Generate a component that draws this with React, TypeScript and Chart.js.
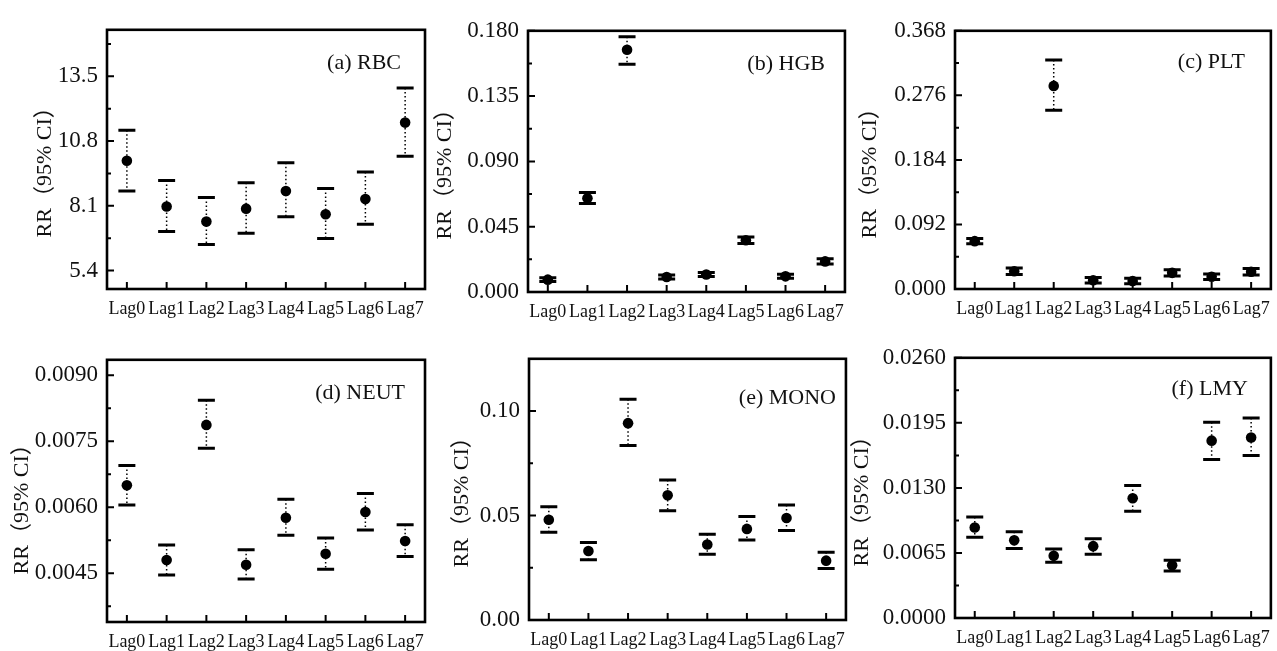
import React, { useEffect, useRef } from 'react';
import { Chart, registerables } from 'chart.js';

Chart.register(...registerables);

// ---------- data ----------
const categories = ['Lag0', 'Lag1', 'Lag2', 'Lag3', 'Lag4', 'Lag5', 'Lag6', 'Lag7'];

const rbcEst = [9.98, 8.07, 7.44, 7.98, 8.72, 7.75, 8.38, 11.57];
const rbcLow = [8.72, 7.03, 6.49, 6.95, 7.64, 6.74, 7.33, 10.17];
const rbcHigh = [11.25, 9.16, 8.45, 9.06, 9.9, 8.82, 9.51, 13.01];
const rbcTicks = [5.4, 8.1, 10.8, 13.5];

const hgbEst = [0.0085, 0.0646, 0.1669, 0.0103, 0.0121, 0.0357, 0.0108, 0.0211];
const hgbLow = [0.0072, 0.061, 0.157, 0.0089, 0.0107, 0.0335, 0.0094, 0.0193];
const hgbHigh = [0.0098, 0.0686, 0.1759, 0.0117, 0.0135, 0.0379, 0.0122, 0.0229];
const hgbTicks = [0.0, 0.045, 0.09, 0.135, 0.18];

const pltEst = [0.0682, 0.0253, 0.2895, 0.0124, 0.0115, 0.023, 0.0175, 0.0245];
const pltLow = [0.0645, 0.0207, 0.2549, 0.0085, 0.0076, 0.0184, 0.0136, 0.0199];
const pltHigh = [0.0719, 0.0299, 0.3264, 0.0163, 0.0154, 0.0276, 0.0214, 0.0291];
const pltTicks = [0.0, 0.092, 0.184, 0.276, 0.368];

const neutEst = [0.0065, 0.0048, 0.00787, 0.00469, 0.00576, 0.00494, 0.00589, 0.00523];
const neutLow = [0.00605, 0.00446, 0.00734, 0.00437, 0.00536, 0.00459, 0.00548, 0.00488];
const neutHigh = [0.00695, 0.00514, 0.00843, 0.00503, 0.00618, 0.0053, 0.00631, 0.0056];
const neutTicks = [0.0045, 0.006, 0.0075, 0.009];

const monoEst = [0.048, 0.033, 0.0942, 0.0597, 0.0361, 0.0436, 0.0488, 0.0284];
const monoLow = [0.042, 0.0288, 0.0835, 0.0523, 0.0315, 0.0383, 0.0428, 0.0246];
const monoHigh = [0.0542, 0.0371, 0.1056, 0.067, 0.041, 0.0495, 0.055, 0.0324];
const monoTicks = [0.0, 0.05, 0.1];

const lmyEst = [0.00905, 0.00776, 0.00621, 0.00718, 0.01196, 0.00527, 0.01772, 0.01804];
const lmyLow = [0.00808, 0.00695, 0.00556, 0.00637, 0.01067, 0.00469, 0.01584, 0.01623];
const lmyHigh = [0.01009, 0.00863, 0.00689, 0.00792, 0.01325, 0.00578, 0.01956, 0.01998];
const lmyTicks = [0.0, 0.0065, 0.013, 0.0195, 0.026];

const yTitle = 'RR（95% CI）';

// ---------- layout / style ----------
const FONT = '"Liberation Serif", "Times New Roman", "Noto Sans CJK SC", serif';
const AXIS_W = 110;
const PAD_TOP = 16;
const PAD_RIGHT = 6;
const X_H = 40;

type Panel = {
  label: string;
  est: number[];
  low: number[];
  high: number[];
  ticks: number[];
  min: number;
  max: number;
  decimals: number;
  box: { l: number; t: number; r: number; b: number };
  titleDx: number;
  titleCy: number;
  labelGap: number;
  labelCy: number;
};

const panels: Panel[] = [
  { label: '(a) RBC', est: rbcEst, low: rbcLow, high: rbcHigh, ticks: rbcTicks, min: 4.63, max: 15.44, decimals: 1,
    box: { l: 107, t: 23, r: 427, b: 289 }, titleDx: -62, titleCy: 160, labelGap: 24, labelCy: 56 },
  { label: '(b) HGB', est: hgbEst, low: hgbLow, high: hgbHigh, ticks: hgbTicks, min: 0, max: 0.18, decimals: 3,
    box: { l: 528, t: 24, r: 847, b: 292 }, titleDx: -83, titleCy: 162, labelGap: 20, labelCy: 57 },
  { label: '(c) PLT', est: pltEst, low: pltLow, high: pltHigh, ticks: pltTicks, min: 0, max: 0.368, decimals: 3,
    box: { l: 955, t: 24, r: 1273, b: 289 }, titleDx: -85, titleCy: 161, labelGap: 26, labelCy: 55 },
  { label: '(d) NEUT', est: neutEst, low: neutLow, high: neutHigh, ticks: neutTicks, min: 0.00339, max: 0.00935, decimals: 4,
    box: { l: 107, t: 353, r: 427, b: 622 }, titleDx: -85, titleCy: 497, labelGap: 20, labelCy: 386 },
  { label: '(e) MONO', est: monoEst, low: monoLow, high: monoHigh, ticks: monoTicks, min: 0, max: 0.125, decimals: 2,
    box: { l: 529, t: 352, r: 848, b: 620 }, titleDx: -67, titleCy: 490, labelGap: 10, labelCy: 391 },
  { label: '(f) LMY', est: lmyEst, low: lmyLow, high: lmyHigh, ticks: lmyTicks, min: 0, max: 0.026, decimals: 4,
    box: { l: 955, t: 351, r: 1273, b: 618 }, titleDx: -93, titleCy: 489, labelGap: 23, labelCy: 382 },
];

function makePlugin(p: Panel) {
  return {
    id: 'panelDeco',
    beforeDatasetsDraw(chart: any) {
      const ctx = chart.ctx;
      const xs = chart.scales.x;
      const ys = chart.scales.y;
      ctx.save();
      ctx.strokeStyle = '#000';
      p.est.forEach((_, i) => {
        const px = xs.getPixelForValue(i);
        const yl = ys.getPixelForValue(p.low[i]);
        const yh = ys.getPixelForValue(p.high[i]);
        ctx.setLineDash([1.5, 2.5]);
        ctx.lineWidth = 1.5;
        ctx.beginPath();
        ctx.moveTo(px, yh);
        ctx.lineTo(px, yl);
        ctx.stroke();
        ctx.setLineDash([]);
        ctx.lineWidth = 3;
        ctx.beginPath();
        ctx.moveTo(px - 8.5, yh);
        ctx.lineTo(px + 8.5, yh);
        ctx.moveTo(px - 8.5, yl);
        ctx.lineTo(px + 8.5, yl);
        ctx.stroke();
      });
      ctx.restore();
    },
    afterDraw(chart: any) {
      const ctx = chart.ctx;
      const { left, right, top, bottom } = chart.chartArea;
      const xs = chart.scales.x;
      const ys = chart.scales.y;
      ctx.save();
      ctx.strokeStyle = '#000';
      ctx.fillStyle = '#111';
      // ticks (inward)
      ctx.lineWidth = 2;
      const step = p.ticks[1] - p.ticks[0];
      ctx.beginPath();
      p.ticks.forEach((v) => {
        const py = ys.getPixelForValue(v);
        ctx.moveTo(left, py);
        ctx.lineTo(left + 7, py);
      });
      for (let k = -1; k < p.ticks.length + 1; k++) {
        const v = p.ticks[0] + step * (k + 0.5);
        if (v > p.min && v < p.max) {
          const py = ys.getPixelForValue(v);
          ctx.moveTo(left, py);
          ctx.lineTo(left + 4, py);
        }
      }
      categories.forEach((_, i) => {
        const px = xs.getPixelForValue(i);
        ctx.moveTo(px, bottom);
        ctx.lineTo(px, bottom - 7);
      });
      ctx.stroke();
      // frame
      ctx.lineWidth = 2.6;
      ctx.strokeRect(left, top, right - left, bottom - top);
      // y title
      ctx.save();
      ctx.translate(left + p.titleDx, top + (p.titleCy - p.box.t));
      ctx.rotate(-Math.PI / 2);
      ctx.font = `22px ${FONT}`;
      ctx.textAlign = 'center';
      ctx.textBaseline = 'middle';
      ctx.fillText(yTitle, 0, 0);
      ctx.restore();
      // panel label
      ctx.font = `22px ${FONT}`;
      ctx.textAlign = 'right';
      ctx.textBaseline = 'middle';
      ctx.fillText(p.label, right - p.labelGap, top + (p.labelCy - p.box.t));
      ctx.restore();
    },
  };
}

function PanelChart({ p }: { p: Panel }) {
  const ref = useRef<HTMLCanvasElement | null>(null);
  useEffect(() => {
    if (!ref.current) return;
    const chart = new Chart(ref.current, {
      type: 'line',
      data: {
        labels: categories,
        datasets: [
          {
            data: p.est,
            showLine: false,
            pointRadius: 5.3,
            pointHoverRadius: 5.3,
            pointBackgroundColor: '#000',
            pointBorderColor: '#000',
            pointBorderWidth: 0,
          },
        ],
      },
      options: {
        animation: false,
        responsive: true,
        maintainAspectRatio: false,
        layout: { padding: { top: PAD_TOP, right: PAD_RIGHT, left: 0, bottom: 0 } },
        plugins: { legend: { display: false }, tooltip: { enabled: false } },
        events: [],
        scales: {
          x: {
            type: 'category',
            offset: true,
            grid: { display: false, drawTicks: false },
            border: { display: false },
            ticks: {
              font: { family: FONT, size: 18 },
              color: '#111',
              padding: 9,
              maxRotation: 0,
              autoSkip: false,
            },
            afterFit: (s: any) => {
              s.height = X_H;
            },
          },
          y: {
            type: 'linear',
            min: p.min,
            max: p.max,
            grid: { display: false, drawTicks: false },
            border: { display: false },
            afterBuildTicks: (s: any) => {
              s.ticks = p.ticks.map((v) => ({ value: v }));
            },
            ticks: {
              font: { family: FONT, size: 23 },
              color: '#111',
              padding: 9,
              callback: (v: any) => Number(v).toFixed(p.decimals),
            },
            afterFit: (s: any) => {
              s.width = AXIS_W;
            },
          },
        },
      },
      plugins: [makePlugin(p)],
    } as any);
    return () => chart.destroy();
  }, [p]);

  const w = p.box.r - p.box.l + AXIS_W + PAD_RIGHT;
  const h = p.box.b - p.box.t + PAD_TOP + X_H;
  return (
    <div
      style={{
        position: 'absolute',
        left: p.box.l - AXIS_W,
        top: p.box.t - PAD_TOP,
        width: w,
        height: h,
      }}
    >
      <canvas ref={ref} />
    </div>
  );
}

export default function App() {
  return (
    <div
      style={{
        position: 'absolute',
        left: 0,
        top: 0,
        width: 1277,
        height: 651,
        overflow: 'hidden',
        background: '#fff',
      }}
    >
      {panels.map((p) => (
        <PanelChart key={p.label} p={p} />
      ))}
    </div>
  );
}
